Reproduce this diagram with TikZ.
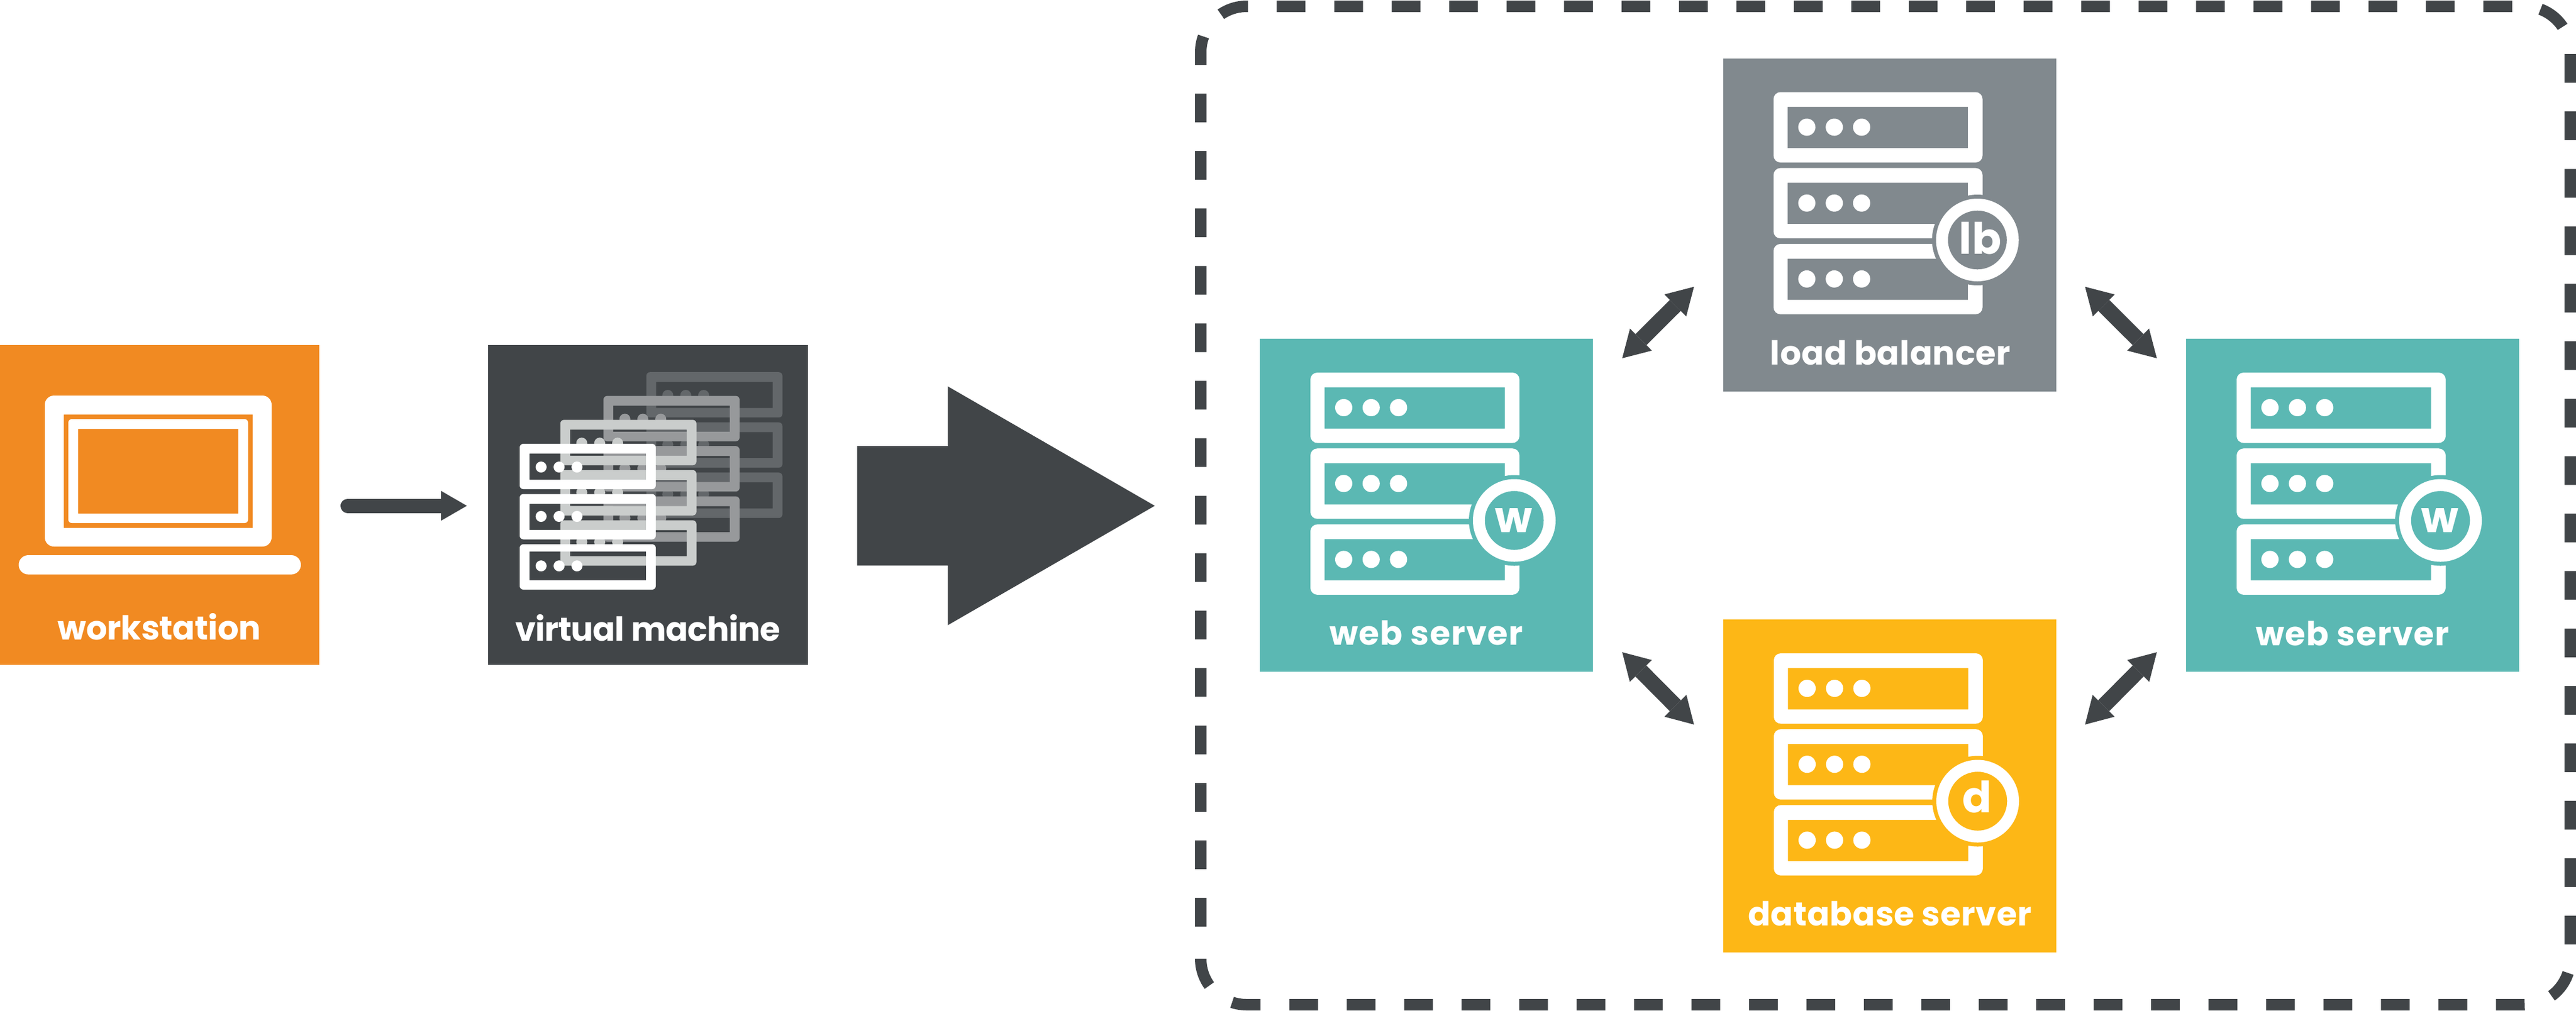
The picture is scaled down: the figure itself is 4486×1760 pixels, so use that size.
\documentclass[tikz,border=0pt]{standalone}
\usepackage{fontspec}
\usetikzlibrary{arrows.meta,calc}
\newfontfamily\labfont{Poppins}[UprightFont=* Bold]
\definecolor{cOrange}{HTML}{F18A22}
\definecolor{cDark}{HTML}{414548}
\definecolor{cTeal}{HTML}{5BB8B3}
\definecolor{cGray}{HTML}{81898E}
\definecolor{cYellow}{HTML}{FDB716}
\definecolor{cLayA}{HTML}{CACDCC}
\definecolor{cLayB}{HTML}{97999B}
\definecolor{cLayC}{HTML}{63676A}
\tikzset{
  x=0.25pt,y=-0.25pt,
  boxnode/.style={minimum width=145pt,minimum height=145pt,inner sep=0pt,outer sep=0pt,draw=none},
  labelnode/.style={text=white,inner sep=0pt,outer sep=0pt,anchor=base,font=\labfont\fontsize{14.4}{16}\selectfont},
  badgenode/.style={text=white,inner sep=0pt,outer sep=0pt,anchor=base,font=\labfont\fontsize{18.8}{20}\selectfont},
  biarrow/.style={draw=cDark,line width=6.75pt,{Triangle[length=11.5pt,width=13.5pt,line width=0pt]}-{Triangle[length=11.5pt,width=13.5pt,line width=0pt]}},
  smallarrow/.style={draw=cDark,line width=6.25pt,line cap=round,-{Triangle[length=11.25pt,width=13pt,line width=0pt]}},
  dashbox/.style={draw=cDark,line width=5pt,dash pattern=on 12.5075pt off 12.5075pt,dash phase=18.5pt},
}
% server icon inside a box node: #1 box name, #2 background, #3 letter, #4 letter x, #5 letter baseline
\newcommand{\srvicon}[5]{%
  \begin{scope}[shift={(#1.north west)}]
    \foreach \uy in {0,132.2,264.4}{
      \fill[white,even odd rule,shift={(0,\uy)}]
        (88,59) [rounded corners=3pt] rectangle (452,181.5) [sharp corners]
        (112.6,84.7) rectangle (426.5,156.5);
      \foreach \dx in {146,193.8,241.4}{
        \fill[white,shift={(0,\uy)}] (\dx,120) circle[radius=15];
      }
    }
    \fill[#2] (443,316.5) circle[radius=79];
    \fill[white,even odd rule] (443,316.5) circle[radius=72] (443,316.5) circle[radius=51.3];
    \node[badgenode] (#1badge) at (#4,#5) {#3};
  \end{scope}%
}
% virtual machine layer: #1 dx, #2 dy, #3 colour, #4 top inset of third unit
\newcommand{\vmlayer}[4]{%
  \begin{scope}[shift={(905+#1,773+#2)}]
    \fill[#3,even odd rule]
      (0,0) [rounded corners=1.6pt] rectangle (237,79) [sharp corners] (17,17) rectangle (220,62.5)
      (0,87.5) [rounded corners=1.6pt] rectangle (237,166.5) [sharp corners] (17,104.5) rectangle (220,150)
      (0,175) [rounded corners=1.6pt] rectangle (237,254) [sharp corners] (17,175+#4) rectangle (220,237.5);
    \foreach \ddy in {40.5,126.5,212.7}{
      \foreach \ddx in {37.3,68.6,99.8}{
        \fill[#3] (\ddx,\ddy) circle[radius=9.6];
      }
    }
  \end{scope}%
}
\begin{document}
\begin{tikzpicture}
  \useasboundingbox (0,0) rectangle (4486,1760);
  \fill[white] (0,0) rectangle (4486,1760);

  % outer dashed frame
  \draw[dashbox] (2091,1640) -- (2091,91) arc[start angle=180,end angle=270,radius=80]
    -- (4396,11) arc[start angle=270,end angle=360,radius=80]
    -- (4476,1670) arc[start angle=0,end angle=90,radius=80]
    -- (2171,1750) arc[start angle=90,end angle=180,radius=80] -- (2091,1640);

  % boxes
  \node[boxnode,fill=cOrange,minimum width=139pt,minimum height=139.2pt] (ws) at (278,879.7) {};
  \node[boxnode,fill=cDark,minimum width=139.25pt,minimum height=139.2pt] (vm) at (1128.5,879.7) {};
  \node[boxnode,fill=cTeal] (wl) at (2484,880) {};
  \node[boxnode,fill=cGray] (lb) at (3290.5,391.5) {};
  \node[boxnode,fill=cYellow] (db) at (3291,1369) {};
  \node[boxnode,fill=cTeal] (wr) at (4097,880) {};

  % laptop
  \fill[white,even odd rule] (78,689) [rounded corners=4pt] rectangle (473,952) [sharp corners] (111,722) rectangle (440,919.5);
  \fill[white,even odd rule] (119,730) [rounded corners=1.5pt] rectangle (432,911) [sharp corners] (136,747) rectangle (415,894.6);
  \fill[white,rounded corners=4.2pt] (32.5,967) rectangle (524,1000.6);
  \node[labelnode] (wst) at (277.5,1114.6) {\addfontfeatures{LetterSpace=-0.6}workstation};

  % virtual machine stack
  \vmlayer{220.6}{-124.8}{cLayC}{17}
  \vmlayer{145.9}{-83.4}{cLayB}{17}
  \vmlayer{70.8}{-41.7}{cLayA}{17}
  \vmlayer{0}{0}{white}{12.6}
  \node[labelnode] (vmt) at (1128,1116) {\addfontfeatures{LetterSpace=-1.6}virtual machine};

  % server icons
  \srvicon{wl}{cTeal}{w}{442.5}{337.3}
  \node[labelnode] (wlt) at (2484,1123.7) {\addfontfeatures{LetterSpace=2.6}web server};
  \srvicon{lb}{cGray}{lb}{448}{341}
  \node[labelnode] (lbt) at (3292,635.5) {\addfontfeatures{LetterSpace=1}load balancer};
  \srvicon{db}{cYellow}{d}{441.6}{336}
  \node[labelnode] (dbt) at (3291,1612.5) {\addfontfeatures{LetterSpace=0.9}database server};
  \srvicon{wr}{cTeal}{w}{442.5}{337.3}
  \node[labelnode] (wrt) at (4097,1124) {\addfontfeatures{LetterSpace=2.6}web server};

  % connector end points
  \coordinate (wsA) at ($(ws.east)+(37,1.3)$);
  \coordinate (vmA) at ($(vm.west)+(-37,1.3)$);
  \coordinate (vmB) at ($(vm.east)+(85.6,1.3)$);
  \coordinate (frB) at (2011,881);
  \coordinate (wlNE) at ($(wl.north east)+(51,34)$);
  \coordinate (lbSW) at ($(lb.south west)+(-50.5,-182)$);
  \coordinate (lbSE) at ($(lb.south east)+(50.5,-182)$);
  \coordinate (wrNW) at ($(wr.north west)+(-51,34)$);
  \coordinate (wlSE) at ($(wl.south east)+(51,-34)$);
  \coordinate (dbNW) at ($(db.north west)+(-51,183)$);
  \coordinate (dbNE) at ($(db.north east)+(50,183)$);
  \coordinate (wrSW) at ($(wr.south west)+(-51,-34)$);

  % connectors
  \draw[smallarrow] ($(wsA)+(12.5,0)$) -- (vmA);
  \fill[cDark] (vmB) ++(0,-104) -- ++(158,0) -- ++(0,-104) -- (frB) -- ($(frB)+(-360.5,208)$) -- ++(0,-104) -- ++(-158,0) -- cycle;
  \draw[biarrow] (wlNE) -- (lbSW);
  \draw[biarrow] (lbSE) -- (wrNW);
  \draw[biarrow] (wlSE) -- (dbNW);
  \draw[biarrow] (wrSW) -- (dbNE);
\end{tikzpicture}
\end{document}
